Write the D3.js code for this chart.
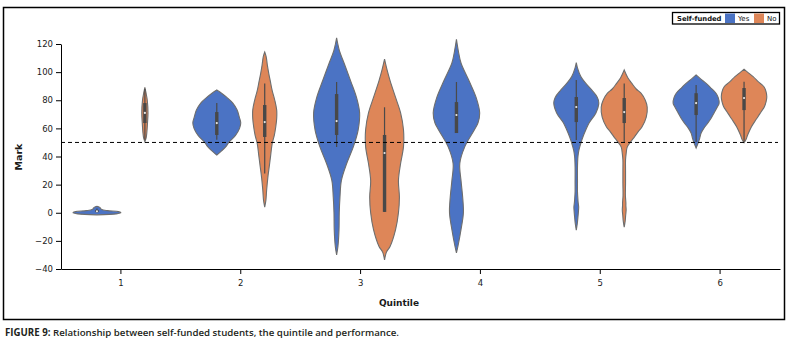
<!DOCTYPE html>
<html>
<head>
<meta charset="utf-8">
<script src="https://cdn.jsdelivr.net/npm/d3@7"></script>
<style>
  html, body { margin: 0; padding: 0; background: #fff; }
  svg { display: block; }
</style>
</head>
<body>
<svg id="chart" width="790" height="346"></svg>
<script>
// ---------------- DATA ----------------
const quintiles = ["1", "2", "3", "4", "5", "6"];
const groups = ["Yes", "No"];
const yTickValues = [-40, -20, 0, 20, 40, 60, 80, 100, 120];
const passMark = 50;

// Violin density profiles: [mark, relative half-width]
const yesProfile1 = [[-1.5,0],[-0.8,0.8],[0,1.0],[0.8,0.9],[1.5,0.45],[2.3,0.2],[3.2,0.15],[4,0.1],[4.6,0]];
const yesProfile2 = [[41,0],[44,0.2],[47,0.38],[50,0.5],[55,0.78],[60,0.95],[64,1.0],[68,0.94],[73,0.85],[78,0.67],[82,0.42],[85,0.2],[87.3,0]];
const yesProfile3 = [[-30,0],[-24,0.055],[-12,0.1],[0,0.11],[11,0.14],[23,0.2],[35,0.42],[47,0.7],[59,0.9],[71,0.96],[82,0.83],[94,0.58],[106.5,0.31],[115,0.12],[120,0.05],[124.3,0]];
const yesProfile4 = [[-28.6,0],[-24,0.06],[-12,0.19],[0,0.29],[11,0.26],[23,0.19],[35,0.14],[47,0.35],[59,0.75],[64,0.9],[71,0.97],[82,0.82],[94,0.52],[106.5,0.19],[115,0.08],[123.3,0]];
const yesProfile5 = [[-12.3,0],[-8,0.04],[-3,0.07],[1,0.09],[4,0.1],[7,0.08],[9,0.07],[15,0.05],[21,0.05],[32.5,0.05],[40,0.07],[44.6,0.11],[50,0.2],[54,0.28],[59,0.4],[64,0.54],[71,0.82],[78,0.94],[82,0.88],[87,0.66],[92,0.4],[96.8,0.19],[103,0.05],[106.7,0]];
const yesProfile6 = [[46,0],[50.3,0.1],[53,0.15],[56.7,0.21],[60,0.32],[63.8,0.49],[67,0.62],[71,0.75],[75,0.88],[78,0.96],[82,0.92],[85,0.83],[89,0.6],[92,0.42],[95,0.2],[98,0]];

const noProfile1 = [[50.5,0],[53,0.05],[56.7,0.08],[64,0.11],[71,0.13],[80,0.1],[85,0.05],[89.2,0]];
const noProfile2 = [[4,0],[9,0.05],[16,0.08],[25,0.13],[33,0.19],[41,0.25],[49,0.31],[55,0.4],[61,0.46],[67,0.5],[73,0.5],[80,0.42],[87,0.31],[93,0.24],[99,0.17],[105,0.11],[111,0.06],[114.3,0]];
const noProfile3 = [[-33.6,0],[-28,0.08],[-24,0.23],[-12,0.46],[0,0.58],[11,0.62],[23,0.58],[35,0.67],[47,0.79],[59,0.79],[71,0.67],[82,0.46],[94,0.23],[102,0.1],[109.3,0]];
const noProfile4 = null;
const noProfile5 = [[-10.2,0],[-6,0.04],[-2,0.06],[2,0.08],[5,0.07],[7,0.07],[12,0.05],[21,0.055],[30,0.055],[37.5,0.055],[42,0.08],[46.7,0.125],[50,0.25],[54,0.43],[58,0.6],[61,0.74],[68,0.92],[75,0.96],[80,0.88],[85,0.7],[88,0.5],[92,0.32],[96,0.15],[101.5,0]];
const noProfile6 = [[49.8,0],[52,0.08],[55.3,0.15],[58,0.22],[61.2,0.31],[65,0.45],[68.3,0.58],[72,0.72],[75.4,0.85],[79,0.92],[82.5,0.95],[86,0.92],[89.6,0.83],[93,0.6],[96.8,0.38],[99.5,0.18],[102,0]];

// Inner box statistics per quintile
const yesWhiskerLow  = [0, 52, 46.7, 56.7, 51.7, 50.3];
const yesLower       = [0.5, 55.3, 55.3, 56.7, 64.5, 69.5];
const yesMedian      = [1, 63.8, 65.2, 69.5, 75.2, 78];
const yesUpper       = [2, 71.6, 84.4, 78.7, 82.3, 85];
const yesWhiskerHigh = [3, 78, 93, 93, 94.4, 90.8];

const noWhiskerLow  = [52, 28, 0.6, null, 50.3, 50.5];
const noLower       = [63.8, 53.9, 0.6, null, 63.8, 73];
const noMedian      = [71, 64.5, 42.5, null, 71.6, 81.6];
const noUpper       = [78, 76.6, 55.3, null, 81.6, 88.7];
const noWhiskerHigh = [88, 92, 75, null, 92, 93.2];

const yesProfiles = [yesProfile1, yesProfile2, yesProfile3, yesProfile4, yesProfile5, yesProfile6];
const noProfiles  = [noProfile1, noProfile2, noProfile3, noProfile4, noProfile5, noProfile6];

// ---------------- DRAW ----------------
const colors = { Yes: "#4b73c4", No: "#de8658" };
const svg = d3.select("#chart");
const tickFont = "'DejaVu Sans', sans-serif";

const x = d3.scaleBand().domain(quintiles).range([61, 780]).paddingInner(0).paddingOuter(0);
const y = d3.scaleLinear().domain([-40, 120]).range([269, 44]);
const xGroup = d3.scaleBand().domain(groups).range([-0.4 * x.bandwidth(), 0.4 * x.bandwidth()]);
const wScale = d3.scaleLinear().domain([0, 1]).range([0, x.bandwidth() * 0.2]);

// outer frame
svg.append("rect").attr("x", 3.5).attr("y", 7.5).attr("width", 781).attr("height", 312)
  .attr("fill", "none").attr("stroke", "#000").attr("stroke-width", 1.5);

// axes
const yAxis = svg.append("g").attr("transform", "translate(61,0)")
  .call(d3.axisLeft(y).tickValues(yTickValues).tickSize(5).tickSizeOuter(0));
const xAxis = svg.append("g").attr("transform", "translate(0,269)")
  .call(d3.axisBottom(x).tickSize(5).tickSizeOuter(0).tickPadding(6));
[yAxis, xAxis].forEach(g => {
  g.selectAll("path, line").attr("stroke", "#000").attr("stroke-width", 1);
  g.selectAll("text").attr("font-family", tickFont).attr("font-size", 8.5).attr("fill", "#1a1a1a");
});
yAxis.selectAll("text").attr("x", -8);

// violins
const area = d3.area()
  .curve(d3.curveCatmullRom.alpha(0.5))
  .y(d => y(d[0]));

function drawViolin(profile, cx, color) {
  if (!profile) return;
  svg.append("path")
    .datum(profile)
    .attr("d", area.x0(d => cx - wScale(d[1])).x1(d => cx + wScale(d[1])))
    .attr("fill", color)
    .attr("stroke", "#6e6e6e")
    .attr("stroke-width", 1.1);
}
function drawBox(cx, lo, q1, med, q3, hi) {
  if (med == null) return;
  svg.append("line").attr("x1", cx).attr("x2", cx).attr("y1", y(lo)).attr("y2", y(hi))
    .attr("stroke", "#4a4a4a").attr("stroke-width", 1.2);
  svg.append("rect").attr("x", cx - 1.7).attr("width", 3.4)
    .attr("y", y(q3)).attr("height", Math.max(0.5, y(q1) - y(q3)))
    .attr("fill", "#484848");
  svg.append("circle").attr("cx", cx).attr("cy", y(med)).attr("r", 1.1).attr("fill", "#e8e8e8");
}

quintiles.forEach((q, i) => {
  const cYes = x(q) + x.bandwidth() / 2 + xGroup("Yes") + xGroup.bandwidth() / 2;
  const cNo  = x(q) + x.bandwidth() / 2 + xGroup("No") + xGroup.bandwidth() / 2;
  drawViolin(yesProfiles[i], cYes, colors.Yes);
  drawBox(cYes, yesWhiskerLow[i], yesLower[i], yesMedian[i], yesUpper[i], yesWhiskerHigh[i]);
  drawViolin(noProfiles[i], cNo, colors.No);
  drawBox(cNo, noWhiskerLow[i], noLower[i], noMedian[i], noUpper[i], noWhiskerHigh[i]);
});

// pass-mark line
svg.append("line").attr("x1", 61).attr("x2", 778).attr("y1", y(passMark)).attr("y2", y(passMark))
  .attr("stroke", "#000").attr("stroke-width", 1).attr("stroke-dasharray", "4,3");

// axis titles
svg.append("text").attr("x", 399).attr("y", 306).attr("text-anchor", "middle")
  .attr("font-family", tickFont).attr("font-weight", "bold").attr("font-size", 9).attr("fill", "#1a1a1a")
  .text("Quintile");
svg.append("text").attr("transform", "translate(22,157) rotate(-90)").attr("text-anchor", "middle")
  .attr("font-family", tickFont).attr("font-weight", "bold").attr("font-size", 9.5).attr("fill", "#1a1a1a")
  .text("Mark");

// legend
const lg = svg.append("g");
lg.append("rect").attr("x", 672.5).attr("y", 12.5).attr("width", 107).attr("height", 11.5)
  .attr("fill", "#fff").attr("stroke", "#000").attr("stroke-width", 1.3);
lg.append("text").attr("x", 677).attr("y", 21).attr("font-family", tickFont).attr("font-weight", "bold")
  .attr("font-size", 6.8).attr("fill", "#111").text("Self-funded");
const legendItems = [{ g: "Yes", px: 725, tx: 738 }, { g: "No", px: 754, tx: 767 }];
legendItems.forEach(it => {
  lg.append("rect").attr("x", it.px).attr("y", 13.5).attr("width", 10).attr("height", 9.5).attr("fill", colors[it.g]);
  lg.append("text").attr("x", it.tx).attr("y", 21).attr("font-family", tickFont)
    .attr("font-size", 7).attr("fill", "#111").text(it.g);
});

// caption
const cap = svg.append("text").attr("x", 5).attr("y", 336)
  .attr("font-family", "'Open Sans', sans-serif").attr("font-size", 9.7).attr("font-weight", 600).attr("fill", "#231f20");
cap.append("tspan").attr("font-weight", 700).text("FIGURE 9: ");
cap.append("tspan").text("Relationship between self-funded students, the quintile and performance.");
</script>
</body>
</html>
